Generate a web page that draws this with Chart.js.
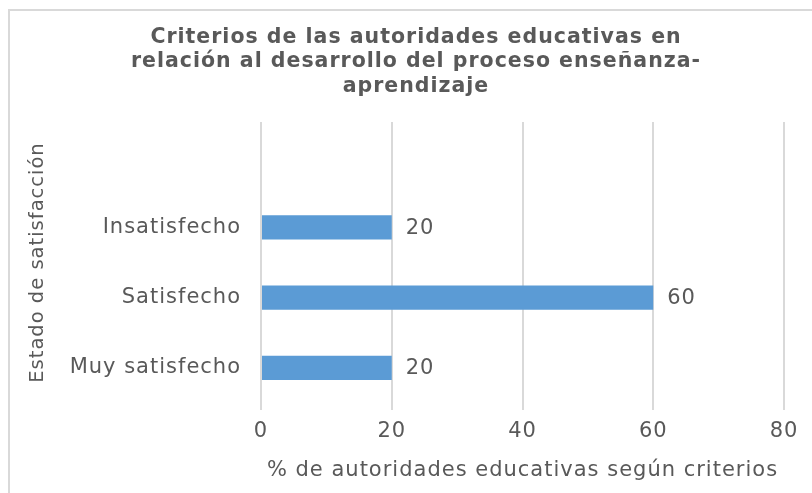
<!DOCTYPE html>
<html>
<head>
<meta charset="utf-8">
<script src="https://cdn.jsdelivr.net/npm/chart.js@4.4.0/dist/chart.umd.min.js"></script>
<style>
    html, body { margin: 0; padding: 0; background: #ffffff; }
    #wrap { width: 812px; height: 493px; }
</style>
</head>
<body>
<div id="wrap"><canvas id="chart" width="812" height="493"></canvas></div>
<script>
// Chart data (top to bottom, first slot is left empty like the original)
const categories = ["", "Insatisfecho", "Satisfecho", "Muy satisfecho"];
const values = [null, 20, 60, 20];
const xTicks = [0, 20, 40, 60, 80];

const titleLines = [
    "Criterios de las autoridades educativas en",
    "relación al desarrollo del proceso enseñanza-",
    "aprendizaje"
];
const xTitle = "% de autoridades educativas según criterios";
const yTitle = "Estado de satisfacción";

const textColor = "#595959";
const gridColor = "#d9d9d9";
const barColor = "#5b9bd5";
const fontFamily = "'DejaVu Sans', Verdana, sans-serif";

// Excel text comes out a bit wider, so space the letters out a little
const spacing = {
    id: "spacing",
    beforeUpdate(chart) { chart.ctx.letterSpacing = "1px"; },
    beforeDraw(chart) { chart.ctx.letterSpacing = "1px"; }
};

// Light border around the chart like the Excel frame
const framePlugin = {
    id: "frame",
    beforeDraw(chart) {
        const ctx = chart.ctx;
        ctx.save();
        ctx.strokeStyle = gridColor;
        ctx.lineWidth = 2;
        ctx.strokeRect(9, 10, 900, 600);
        ctx.restore();
    }
};

// Value labels at the end of each bar
const valueLabels = {
    id: "valueLabels",
    afterDatasetsDraw(chart) {
        const ctx = chart.ctx;
        const meta = chart.getDatasetMeta(0);
        ctx.save();
        ctx.fillStyle = textColor;
        ctx.font = "21px " + fontFamily;
        ctx.textAlign = "left";
        ctx.textBaseline = "middle";
        meta.data.forEach((bar, i) => {
            if (values[i] === null) return;
            ctx.fillText(String(values[i]), bar.x + 14, bar.y + 1);
        });
        ctx.restore();
    }
};

const padLeft = 48;

new Chart(document.getElementById("chart").getContext("2d"), {
    type: "bar",
    data: {
        labels: categories,
        datasets: [{
            data: values,
            backgroundColor: barColor,
            borderWidth: 0,
            categoryPercentage: 1,
            barPercentage: 0.345
        }]
    },
    options: {
        indexAxis: "y",
        responsive: false,
        animation: false,
        layout: {
            padding: { left: padLeft, right: 28, top: 25, bottom: 6 }
        },
        plugins: {
            legend: { display: false },
            tooltip: { enabled: false },
            title: {
                display: true,
                text: titleLines,
                color: textColor,
                font: { family: fontFamily, size: 20.5, weight: "bold", lineHeight: 1.2 },
                padding: { top: 0, bottom: 23.2 }
            }
        },
        scales: {
            x: {
                min: 0,
                max: 80,
                afterBuildTicks(scale) {
                    scale.ticks = xTicks.map(v => ({ value: v }));
                },
                afterFit(scale) {
                    scale.height = 493 - 6 - 403;
                },
                grid: {
                    color: gridColor,
                    lineWidth: 2,
                    drawTicks: true,
                    tickLength: 7,
                    tickColor: gridColor
                },
                border: { display: false },
                ticks: {
                    color: textColor,
                    font: { family: fontFamily, size: 21 },
                    padding: 9
                },
                title: {
                    display: true,
                    text: xTitle,
                    color: textColor,
                    font: { family: fontFamily, size: 21 }
                }
            },
            y: {
                afterFit(scale) {
                    scale.width = 261 - padLeft;
                },
                grid: { display: false, drawTicks: false },
                border: { display: false },
                ticks: {
                    color: textColor,
                    font: { family: fontFamily, size: 21 },
                    padding: 20
                },
                title: {
                    display: true,
                    text: yTitle,
                    color: textColor,
                    font: { family: fontFamily, size: 19.5 },
                    padding: { top: -22, bottom: 4 }
                }
            }
        }
    },
    plugins: [spacing, framePlugin, valueLabels]
});
</script>
</body>
</html>
